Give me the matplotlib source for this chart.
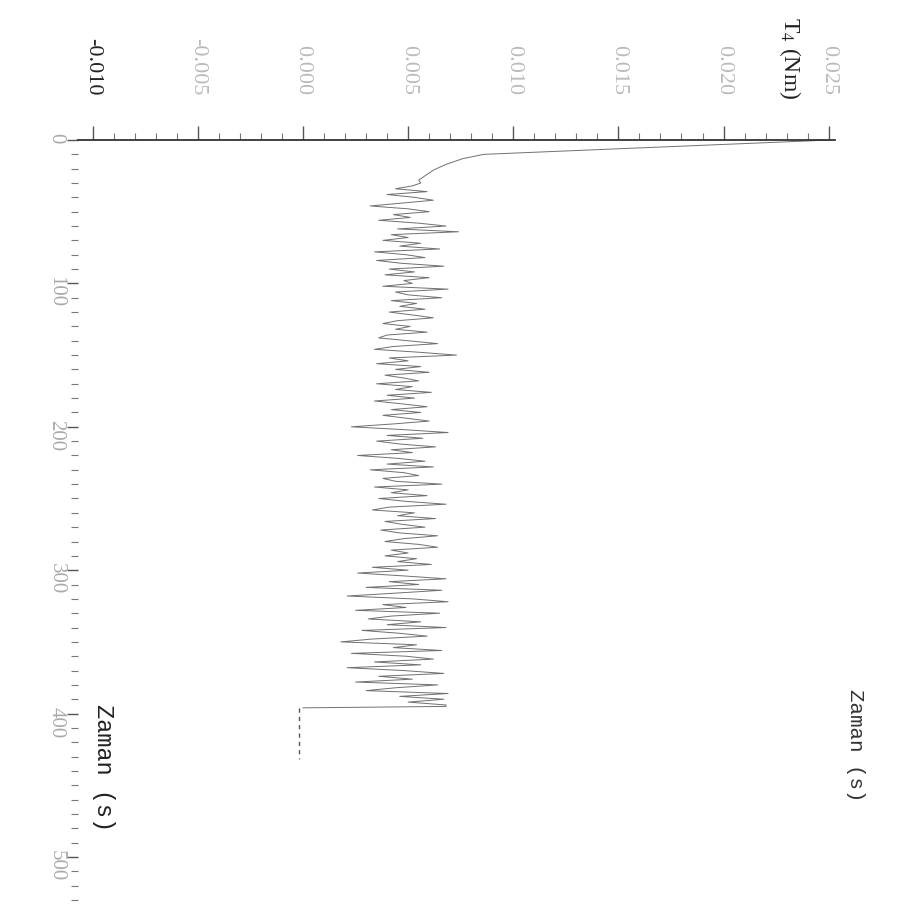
import numpy as np
import matplotlib.pyplot as plt
import matplotlib.ticker as mticker

plt.rcParams['mathtext.fontset'] = 'stix'

# ---- data (torque in 1e-3 Nm, time in s) ----
t_start = [0, 2, 4, 6, 8, 10, 13, 17, 21, 25, 28]
T_start = [25.1, 21.8, 18.4, 15.1, 11.8, 8.6, 7.6, 6.8, 6.2, 5.8, 5.5]

t_run = list(range(30, 396, 2))
T_run = [
    5.6, 5.2, 4.4, 5.9, 4.0, 5.3, 6.2, 4.7, 3.2, 5.0,
    6.0, 4.3, 5.1, 3.6, 5.5, 6.8, 4.5, 7.4, 4.2, 5.0,
    3.8, 5.6, 4.6, 6.5, 3.4, 4.9, 5.8, 3.5, 4.7, 6.7,
    4.1, 5.3, 3.9, 6.0, 4.8, 5.2, 3.8, 6.9, 4.4, 5.0,
    6.6, 4.2, 5.4, 4.6, 5.8, 4.1, 5.2, 6.2, 4.5, 3.8,
    5.1, 4.4, 5.9, 4.0, 3.6, 5.0, 6.4, 4.3, 3.4, 5.5,
    7.3, 4.1, 5.0, 3.5, 5.6, 4.4, 6.0, 3.9, 4.8, 5.5,
    3.5, 5.2, 4.4, 6.1, 4.0, 5.3, 3.4, 4.7, 5.9, 4.2,
    5.6, 3.8, 4.9, 6.0, 4.3, 2.3, 4.8, 6.9, 4.0, 5.7,
    3.5, 4.6, 6.3, 4.2, 5.2, 2.6, 4.5, 5.8, 4.0, 6.2,
    3.2, 4.8, 5.5, 3.8, 4.4, 6.6, 3.4, 5.0, 4.2, 5.9,
    3.6, 4.9, 6.8, 4.1, 3.3, 5.3, 4.5, 6.3, 3.9, 4.7,
    5.8, 3.7, 4.6, 6.4, 4.8, 3.9, 5.5, 6.4, 4.2, 5.0,
    3.9, 5.4, 4.5, 6.1, 3.3, 5.0, 2.6, 4.8, 6.8, 4.1,
    5.5, 3.0, 6.6, 4.4, 2.1, 5.2, 6.9, 3.8, 4.9, 2.5,
    6.5, 4.2, 3.1, 5.6, 4.0, 6.8, 2.8, 4.6, 5.9, 3.3,
    1.8, 5.4, 4.3, 6.6, 2.3, 4.9, 6.2, 3.4, 5.6, 2.1,
    4.8, 6.7, 3.6, 5.2, 2.5, 6.4, 4.4, 3.0, 6.9, 4.6,
    6.7, 5.0, 6.8,
]

t_stop = [395, 396]
T_stop = [6.8, 0.0]

t_off = [396, 432]
T_off = [-0.2, -0.2]

x_ticks = [-0.010, -0.005, 0.000, 0.005, 0.010, 0.015, 0.020, 0.025]
x_labels = ['-0.010', '-0.005', '0.000', '0.005', '0.010', '0.015', '0.020', '0.025']
y_ticks = [0, 100, 200, 300, 400, 500]
y_labels = ['0', '100', '200', '300', '400', '500']
#------------------------------------------------------------

t_all = np.array(t_start + t_run + t_stop)
T_all = np.array(T_start + T_run + T_stop) * 1e-3

fig = plt.figure(figsize=(9.07, 9.07), dpi=100)
W = H = 907.0
ax = fig.add_axes([78/W, 1-900/H, (835-78)/W, (900-140)/H])

ax.plot(T_all, t_all, color='#707070', lw=0.7)
ax.plot(np.array(T_off)*1e-3, t_off, color='#555555', lw=1.0, ls=(0, (3, 3)))

ax.set_xlim(-0.0107, 0.0253)
ax.set_ylim(530, 0)

ax.xaxis.tick_top()
ax.set_xticks(x_ticks)
ax.set_xticklabels(x_labels, rotation=-90, fontsize=16, family='Liberation Serif')
ax.set_yticks(y_ticks)
ax.set_yticklabels(y_labels, rotation=-90, fontsize=15, family='Liberation Serif')
ax.xaxis.set_minor_locator(mticker.MultipleLocator(0.001))
ax.yaxis.set_minor_locator(mticker.MultipleLocator(10))

for i, lab in enumerate(ax.get_xticklabels()):
    lab.set_color('#222222' if i == 0 else '#bbbbbb')
for lab in ax.get_yticklabels():
    lab.set_color('#aaaaaa')

ax.tick_params(axis='x', which='major', length=10, width=1.0, color='#555555', pad=22)
ax.tick_params(axis='x', which='minor', length=5, width=0.8, color='#777777')
ax.tick_params(axis='y', which='major', length=8, width=1.0, color='#555555', pad=1)
ax.tick_params(axis='y', which='minor', length=5, width=0.8, color='#777777')

for s in ['right', 'bottom', 'left']:
    ax.spines[s].set_visible(False)
ax.spines['top'].set_linewidth(1.3)
ax.spines['top'].set_color('#333333')

mono = ['Liberation Mono', 'DejaVu Sans Mono']
fig.text(790/W, 1-58/H, 'T$_4$ (Nm)', rotation=-90, fontsize=17,
         family='Liberation Serif', ha='center', va='center', color='#222222')
fig.text(855/W, 1-745/H, 'Zaman (s)', rotation=-90, fontsize=15,
         family=mono, ha='center', va='center', color='#333333')
fig.text(103/W, 1-768/H, 'Zaman (s)', rotation=-90, fontsize=17,
         family=mono, ha='center', va='center', color='#222222')

fig.savefig('out.png', dpi=100, facecolor='white')
plt.close()
